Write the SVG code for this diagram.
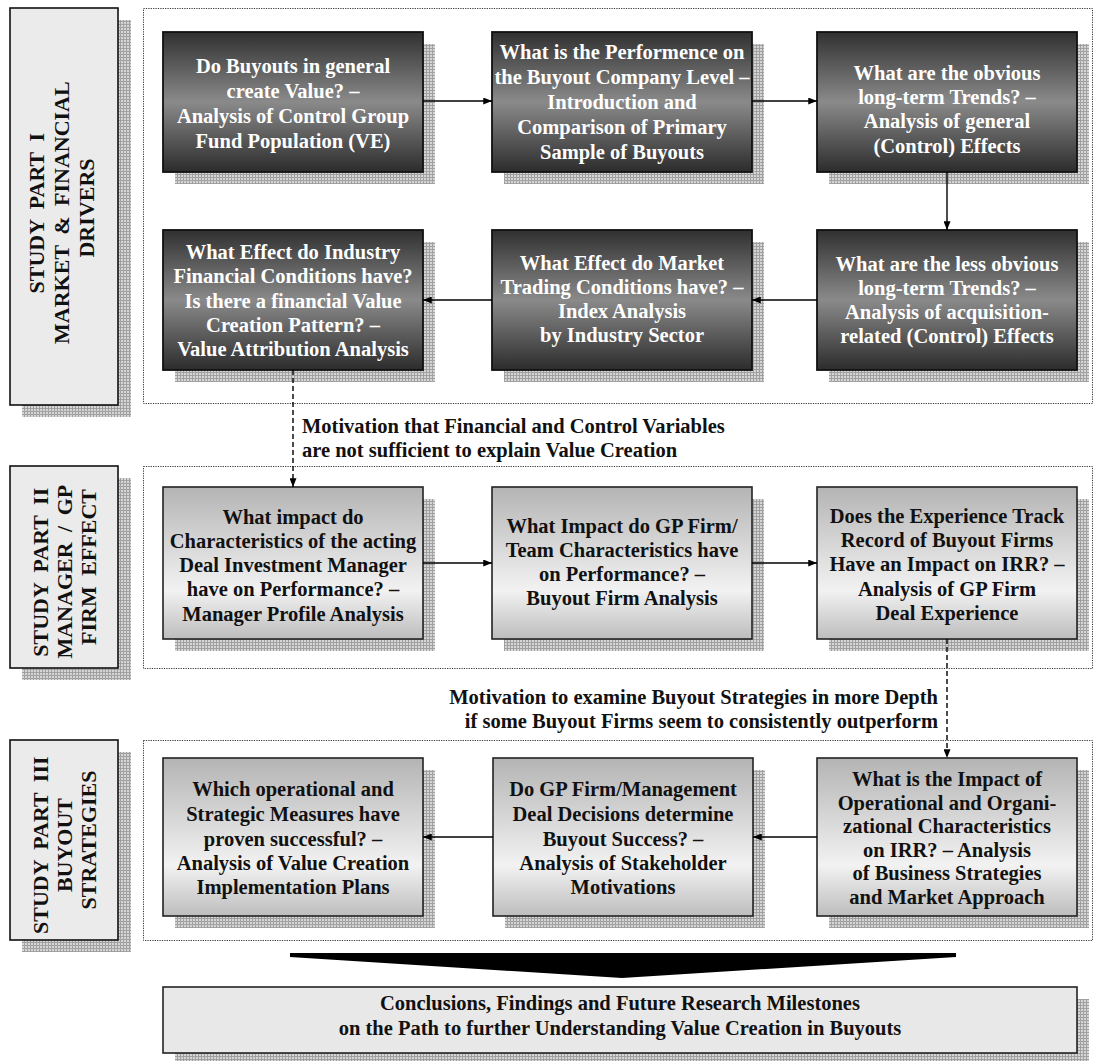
<svg xmlns="http://www.w3.org/2000/svg" width="1099" height="1061" viewBox="0 0 1099 1061">
<defs>
  <pattern id="mesh" width="3" height="3" patternUnits="userSpaceOnUse">
    <rect width="3" height="3" fill="#d6d6d6"/>
    <path d="M0 0.5H3M0.5 0V3" stroke="#a0a0a0" stroke-width="1"/>
  </pattern>
  <linearGradient id="dark" x1="0" y1="0" x2="0" y2="1">
    <stop offset="0" stop-color="#303030"/>
    <stop offset="0.5" stop-color="#8a8a8a"/>
    <stop offset="1" stop-color="#2c2c2c"/>
  </linearGradient>
  <linearGradient id="light" x1="0" y1="0" x2="0" y2="1">
    <stop offset="0" stop-color="#b4b4b4"/>
    <stop offset="0.68" stop-color="#f2f2f2"/>
    <stop offset="1" stop-color="#bdbdbd"/>
  </linearGradient>
  <marker id="arrow" viewBox="0 0 10 8" refX="10" refY="4" markerWidth="9" markerHeight="7" markerUnits="userSpaceOnUse" orient="auto">
    <path d="M0 0L10 4L0 8z" fill="#000"/>
  </marker>
</defs>
<style>
  .shadow{fill:url(#mesh)}
  .lab{fill:#ebebeb;stroke:#111;stroke-width:1.6}
  .region{fill:none;stroke:#333;stroke-width:1;stroke-dasharray:1.2 1.2}
  .nd{fill:url(#dark);stroke:#111;stroke-width:1.8}
  .nl{fill:url(#light);stroke:#222;stroke-width:1.6}
  .concl{fill:#e8e8e8;stroke:#222;stroke-width:1.6}
  text{font-family:"Liberation Serif","Times New Roman",serif;font-weight:bold;font-size:20.5px}
  .w{fill:#fff;text-anchor:middle}
  .b{fill:#111;text-anchor:middle}
  .lt{font-size:22px;word-spacing:5px;text-anchor:middle;fill:#111}
  .c{fill:none;stroke:#000;stroke-width:1.4;marker-end:url(#arrow)}
  .d{fill:none;stroke:#000;stroke-width:1.4;stroke-dasharray:5 3;marker-end:url(#arrow)}
</style>

<!-- dotted study-part frames -->
<g id="regions">
  <rect class="region" x="143.5" y="8.5" width="949" height="395"/>
  <rect class="region" x="143.5" y="466.5" width="949" height="202"/>
  <rect class="region" x="143.5" y="740.5" width="949" height="200"/>
</g>

<!-- side labels -->
<g id="label-part1">
  <rect class="shadow" x="22" y="20" width="109" height="397"/>
  <rect class="lab" x="10" y="8" width="108" height="397"/>
  <text class="lt" transform="translate(64,208) rotate(-90)">
    <tspan x="0" y="-20">STUDY PART I</tspan>
    <tspan x="0" y="4.5">MARKET &amp; FINANCIAL</tspan>
    <tspan x="0" y="30">DRIVERS</tspan>
  </text>
</g>
<g id="label-part2">
  <rect class="shadow" x="22" y="478" width="109" height="202"/>
  <rect class="lab" x="10" y="466" width="108" height="202"/>
  <text class="lt" transform="translate(64,567) rotate(-90)">
    <tspan x="0" y="-16">STUDY PART II</tspan>
    <tspan x="0" y="8">MANAGER / GP</tspan>
    <tspan x="0" y="32">FIRM EFFECT</tspan>
  </text>
</g>
<g id="label-part3">
  <rect class="shadow" x="22" y="752" width="109" height="200"/>
  <rect class="lab" x="10" y="740" width="108" height="200"/>
  <text class="lt" transform="translate(64,840) rotate(-90)">
    <tspan x="0" y="-16">STUDY PART III</tspan>
    <tspan x="0" y="8">BUYOUT</tspan>
    <tspan x="0" y="32">STRATEGIES</tspan>
  </text>
</g>

<!-- Part I, row 1 -->
<g id="n-create-value">
  <rect class="shadow" x="175" y="44" width="260" height="140"/>
  <rect class="nd" x="163" y="32" width="260" height="140"/>
  <text class="w"><tspan x="293" y="73">Do Buyouts in general</tspan><tspan x="293" y="98">create Value? –</tspan><tspan x="293" y="123">Analysis of Control Group</tspan><tspan x="293" y="148">Fund Population (VE)</tspan></text>
</g>
<g id="n-company-level">
  <rect class="shadow" x="504" y="44" width="260" height="140"/>
  <rect class="nd" x="492" y="32" width="260" height="140"/>
  <text class="w"><tspan x="622" y="59">What is the Performence on</tspan><tspan x="622" y="84">the Buyout Company Level –</tspan><tspan x="622" y="109">Introduction and</tspan><tspan x="622" y="134">Comparison of Primary</tspan><tspan x="622" y="159">Sample of Buyouts</tspan></text>
</g>
<g id="n-obvious-trends">
  <rect class="shadow" x="829" y="44" width="260" height="140"/>
  <rect class="nd" x="817" y="32" width="260" height="140"/>
  <text class="w"><tspan x="947" y="80">What are the obvious</tspan><tspan x="947" y="104">long-term Trends? –</tspan><tspan x="947" y="128">Analysis of general</tspan><tspan x="947" y="153">(Control) Effects</tspan></text>
</g>

<!-- Part I, row 2 -->
<g id="n-industry-financial">
  <rect class="shadow" x="175" y="242" width="260" height="140"/>
  <rect class="nd" x="163" y="230" width="260" height="140"/>
  <text class="w"><tspan x="293" y="259">What Effect do Industry</tspan><tspan x="293" y="283">Financial Conditions have?</tspan><tspan x="293" y="308">Is there a financial Value</tspan><tspan x="293" y="332">Creation Pattern? –</tspan><tspan x="293" y="356">Value Attribution Analysis</tspan></text>
</g>
<g id="n-market-trading">
  <rect class="shadow" x="504" y="242" width="260" height="140"/>
  <rect class="nd" x="492" y="230" width="260" height="140"/>
  <text class="w"><tspan x="622" y="270">What Effect do Market</tspan><tspan x="622" y="294">Trading Conditions have? –</tspan><tspan x="622" y="318">Index Analysis</tspan><tspan x="622" y="342">by Industry Sector</tspan></text>
</g>
<g id="n-less-obvious">
  <rect class="shadow" x="829" y="242" width="260" height="140"/>
  <rect class="nd" x="817" y="230" width="260" height="140"/>
  <text class="w"><tspan x="947" y="271">What are the less obvious</tspan><tspan x="947" y="295">long-term Trends? –</tspan><tspan x="947" y="319">Analysis of acquisition-</tspan><tspan x="947" y="343">related (Control) Effects</tspan></text>
</g>

<!-- Part II -->
<g id="n-manager-profile">
  <rect class="shadow" x="175" y="499" width="260" height="152"/>
  <rect class="nl" x="163" y="487" width="260" height="152"/>
  <text class="b"><tspan x="293" y="524">What impact do</tspan><tspan x="293" y="548">Characteristics of the acting</tspan><tspan x="293" y="572">Deal Investment Manager</tspan><tspan x="293" y="596">have on Performance? –</tspan><tspan x="293" y="621">Manager Profile Analysis</tspan></text>
</g>
<g id="n-gp-team">
  <rect class="shadow" x="504" y="499" width="260" height="152"/>
  <rect class="nl" x="492" y="487" width="260" height="152"/>
  <text class="b"><tspan x="622" y="533">What Impact do GP Firm/</tspan><tspan x="622" y="557">Team Characteristics have</tspan><tspan x="622" y="581">on Performance? –</tspan><tspan x="622" y="605">Buyout Firm Analysis</tspan></text>
</g>
<g id="n-track-record">
  <rect class="shadow" x="829" y="499" width="260" height="152"/>
  <rect class="nl" x="817" y="487" width="260" height="152"/>
  <text class="b"><tspan x="947" y="523">Does the Experience Track</tspan><tspan x="947" y="547">Record of Buyout Firms</tspan><tspan x="947" y="571">Have an Impact on IRR? –</tspan><tspan x="947" y="596">Analysis of GP Firm</tspan><tspan x="947" y="620">Deal Experience</tspan></text>
</g>

<!-- Part III -->
<g id="n-implementation">
  <rect class="shadow" x="175" y="770" width="260" height="158"/>
  <rect class="nl" x="163" y="758" width="260" height="158"/>
  <text class="b"><tspan x="293" y="796">Which operational and</tspan><tspan x="293" y="821">Strategic Measures have</tspan><tspan x="293" y="846">proven successful? –</tspan><tspan x="293" y="870">Analysis of Value Creation</tspan><tspan x="293" y="894">Implementation Plans</tspan></text>
</g>
<g id="n-stakeholder">
  <rect class="shadow" x="505" y="770" width="260" height="158"/>
  <rect class="nl" x="493" y="758" width="260" height="158"/>
  <text class="b"><tspan x="623" y="796">Do GP Firm/Management</tspan><tspan x="623" y="821">Deal Decisions determine</tspan><tspan x="623" y="846">Buyout Success? –</tspan><tspan x="623" y="870">Analysis of Stakeholder</tspan><tspan x="623" y="894">Motivations</tspan></text>
</g>
<g id="n-operational">
  <rect class="shadow" x="829" y="770" width="260" height="158"/>
  <rect class="nl" x="817" y="758" width="260" height="158"/>
  <text class="b"><tspan x="947" y="786">What is the Impact of</tspan><tspan x="947" y="810">Operational and Organi-</tspan><tspan x="947" y="833">zational Characteristics</tspan><tspan x="947" y="857">on IRR? – Analysis</tspan><tspan x="947" y="880">of Business Strategies</tspan><tspan x="947" y="904">and Market Approach</tspan></text>
</g>

<!-- conclusions -->
<g id="n-conclusions">
  <rect class="shadow" x="175" y="999" width="914" height="66"/>
  <rect class="concl" x="163" y="987" width="914" height="66"/>
  <text class="b"><tspan x="620" y="1010">Conclusions, Findings and Future Research Milestones</tspan><tspan x="620" y="1035">on the Path to further Understanding Value Creation in Buyouts</tspan></text>
</g>

<!-- connectors -->
<g id="connectors">
  <path class="c" d="M423 101H492"/>
  <path class="c" d="M752 101H817"/>
  <path class="c" d="M947 172V230"/>
  <path class="c" d="M817 300H752"/>
  <path class="c" d="M492 300H423"/>
  <path class="d" d="M293 370V487"/>
  <path class="c" d="M423 563H492"/>
  <path class="c" d="M752 563H817"/>
  <path class="d" d="M947 639V758"/>
  <path class="c" d="M817 837H753"/>
  <path class="c" d="M493 837H423"/>
  <polygon points="290,953 956,953 956,957 622,978 290,957" fill="#000"/>
  <text fill="#111"><tspan x="302" y="433">Motivation that Financial and Control Variables</tspan><tspan x="302" y="457">are not sufficient to explain Value Creation</tspan></text>
  <text fill="#111" text-anchor="end"><tspan x="938" y="704">Motivation to examine Buyout Strategies in more Depth</tspan><tspan x="938" y="728">if some Buyout Firms seem to consistently outperform</tspan></text>
</g>
</svg>
